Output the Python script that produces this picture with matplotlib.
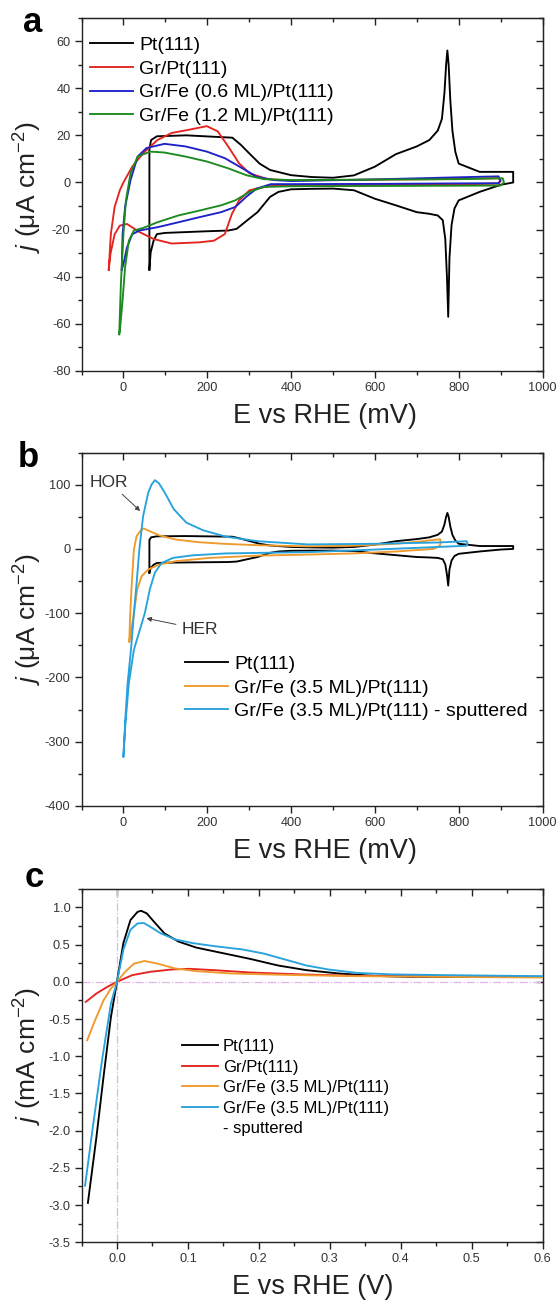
import matplotlib
matplotlib.use('Agg')
import matplotlib.pyplot as plt
from matplotlib.ticker import MultipleLocator, FormatStrFormatter
from matplotlib.lines import Line2D

plt.rcParams['font.family'] = ['Liberation Sans', 'DejaVu Sans']
plt.rcParams['mathtext.fontset'] = 'custom'
plt.rcParams['mathtext.rm'] = 'Liberation Sans'
plt.rcParams['mathtext.it'] = 'Liberation Sans:italic'
plt.rcParams['axes.unicode_minus'] = False

# ---------------- Panel a data (E in mV, j in uA cm-2) ----------------
E_pt = [62, 62, 66, 80, 150, 260, 280, 300, 325, 350, 400, 450, 500, 550, 600, 650, 700, 730, 750,
        760, 766, 770, 773, 776, 780, 785, 792, 800, 850, 930, 930, 900, 850, 800, 790, 783, 778,
        775, 772, 768, 762, 750, 730, 700, 650, 600, 550, 500, 450, 400, 370, 350, 320, 300, 270,
        250, 200, 100, 80, 72, 65, 62]
j_pt = [-37, 14, 18, 19.6, 20, 19, 16, 12.4, 8, 5.3, 3.1, 2.3, 2, 3, 6.7, 12, 15.3, 18, 22,
        27, 38, 50, 56, 50, 35, 22, 13, 8, 4.5, 4.5, 0, -1, -4, -7.6, -11, -18, -32,
        -57, -40, -24, -16, -14, -13.3, -12.6, -9.7, -6.9, -3.3, -2.6, -2.7, -2.9, -4, -6.1, -12.6, -15.4, -19.7,
        -20.4, -20.7, -21.4, -21.9, -24.7, -29.7, -37]

E_grpt = [-35, -30, -21, -8.5, 0, 21, 47, 81, 115, 157, 199, 225, 250, 276, 301, 344, 400, 600, 800, 895,
          900, 895, 800, 600, 400, 350, 320, 301, 276, 259, 242, 216, 182, 115, 72, 38, 8.5, -8.5, -21, -31, -35]
j_grpt = [-37, -21.9, -10.4, -3.3, 0, 6.7, 12.4, 18, 21, 22.4, 23.9, 21.7, 15.3, 8.1, 3.9, 1.4, 0.9, 1.2, 1.5, 1.8,
          0.5, -0.5, -0.8, -1, -1.2, -1.5, -2.5, -3.3, -7.6, -13.3, -21.9, -24.7, -25.4, -25.9, -24, -21, -17.6, -18.3, -22, -30.4, -37]

E_fe06 = [-4, -2, 4, 17, 34, 55, 98, 148, 199, 242, 284, 318, 360, 400, 600, 800, 895, 900, 895, 600,
          400, 352, 318, 293, 267, 233, 182, 131, 81, 38, 21, 8.5, 0, -4]
j_fe06 = [-37, -22, -10.4, 1, 11, 14.6, 16.4, 15.3, 13.1, 10.3, 6, 2.4, 1, 0.6, 1.3, 2.2, 2.6, 1, -0.3, -0.6,
          -0.7, -0.7, -2.6, -6.1, -10.4, -12.6, -14.7, -16.9, -19, -20.4, -22, -27.6, -34.7, -37]

E_fe12 = [-10, -6, 0, 6, 17, 34, 64, 98, 148, 199, 250, 293, 335, 400, 600, 800, 905, 908, 900, 600,
          400, 335, 301, 267, 233, 182, 131, 81, 47, 25, 13, 4, -2, -8.5, -10]
j_fe12 = [-64.4, -43, -22, -7.6, 3.9, 11, 13.1, 12.7, 11, 8.9, 6, 3.1, 1.4, 1, 1.2, 1.4, 1.8, 0, -1.3, -1.5,
          -1.6, -1.9, -4, -7.6, -9.7, -11.9, -14, -16.9, -19.3, -20.4, -24.7, -36, -50, -63, -64.4]

labels_a = ['Pt(111)', 'Gr/Pt(111)', 'Gr/Fe (0.6 ML)/Pt(111)', 'Gr/Fe (1.2 ML)/Pt(111)']

# ---------------- Panel b data ----------------
E_fe35 = [14, 16, 20, 25, 31.5, 43, 49, 63, 87, 126, 181, 244, 323, 441, 550, 650, 700, 740, 756, 757,
          755, 740, 650, 550, 441, 323, 205, 126, 87, 59, 43, 33, 24, 14]
j_fe35 = [-144, -105, -53, -1, 20, 30, 31.7, 27.5, 20.8, 14.5, 10.4, 7.8, 5.7, 4, 5, 8, 11, 14, 15, 10,
          5, 0, -4, -7, -8.8, -10.4, -14, -19, -24, -32, -43, -63, -105, -144]

E_sput = [0, 5, 10, 18, 25, 31.5, 38, 47, 59, 67, 75, 85, 100, 120, 150, 190, 245, 320, 441, 600, 750, 819,
          821, 819, 750, 600, 441, 244, 165, 118, 91, 75, 63, 51, 25, 13, 5, 0]
j_sput = [-323, -260, -209, -157, -100, -53, -1, 51, 87, 100, 107, 102, 86, 62, 41, 29, 19, 12, 7, 8, 10, 12,
          8, 5, 3, -1, -5, -7, -10, -14, -22, -37, -63, -100, -157, -209, -270, -323]

labels_b = ['Pt(111)', 'Gr/Fe (3.5 ML)/Pt(111)', 'Gr/Fe (3.5 ML)/Pt(111) - sputtered']

# ---------------- Panel c data (E in V, j in mA cm-2) ----------------
Ec_pt = [-0.041, -0.029, -0.019, -0.0085, 0, 0.009, 0.019, 0.029, 0.034, 0.042, 0.052, 0.067, 0.087, 0.112,
         0.147, 0.187, 0.227, 0.267, 0.313, 0.363, 0.413, 0.488, 0.6]
jc_pt = [-2.97, -2.09, -1.28, -0.47, 0, 0.52, 0.83, 0.94, 0.955, 0.92, 0.81, 0.65, 0.54, 0.46,
         0.39, 0.31, 0.22, 0.157, 0.112, 0.08, 0.067, 0.067, 0.067]

Ec_grpt = [-0.044, -0.029, -0.0135, 0, 0.0215, 0.047, 0.077, 0.102, 0.137, 0.187, 0.262, 0.338, 0.6]
jc_grpt = [-0.27, -0.157, -0.067, 0, 0.09, 0.135, 0.166, 0.175, 0.157, 0.126, 0.099, 0.081, 0.067]

Ec_fe35 = [-0.042, -0.031, -0.019, -0.0085, 0, 0.0115, 0.024, 0.039, 0.057, 0.082, 0.112, 0.162, 0.237, 0.338, 0.6]
jc_fe35 = [-0.785, -0.52, -0.25, -0.09, 0, 0.135, 0.245, 0.28, 0.245, 0.18, 0.143, 0.112, 0.094, 0.076, 0.058]

Ec_sput = [-0.045, -0.034, -0.021, -0.0085, 0, 0.009, 0.019, 0.029, 0.038, 0.047, 0.062, 0.082, 0.107, 0.137,
           0.177, 0.207, 0.237, 0.267, 0.298, 0.338, 0.388, 0.463, 0.6]
jc_sput = [-2.74, -1.95, -1.05, -0.29, 0, 0.43, 0.70, 0.785, 0.79, 0.74, 0.65, 0.57, 0.52, 0.48,
           0.435, 0.38, 0.30, 0.22, 0.166, 0.12, 0.10, 0.09, 0.076]

labels_c = ['Pt(111)', 'Gr/Pt(111)', 'Gr/Fe (3.5 ML)/Pt(111)', 'Gr/Fe (3.5 ML)/Pt(111)', '- sputtered']

# ---------------- styling ----------------
C_BLACK = '#000000'
C_RED = '#e3241f'
C_BLUE = '#1c22c8'
C_GREEN = '#1b8a1f'
C_ORANGE = '#ef9a2c'
C_LBLUE = '#27a2dc'
LW = 1.35
SPINE = '#222222'


def style(ax, xlim, ylim, xmaj, xmin, ymaj, ymin, fmt=None):
    ax.set_xlim(*xlim)
    ax.set_ylim(*ylim)
    for sp in ax.spines.values():
        sp.set_linewidth(1.0)
        sp.set_color(SPINE)
    ax.xaxis.set_major_locator(MultipleLocator(xmaj))
    ax.xaxis.set_minor_locator(MultipleLocator(xmin))
    ax.yaxis.set_major_locator(MultipleLocator(ymaj))
    ax.yaxis.set_minor_locator(MultipleLocator(ymin))
    if fmt:
        ax.xaxis.set_major_formatter(FormatStrFormatter(fmt))
        ax.yaxis.set_major_formatter(FormatStrFormatter(fmt))
    ax.tick_params(which='both', direction='out', width=1.0, color=SPINE,
                   labelsize=9.2, labelcolor='#333333', top=False, right=False)
    ax.tick_params(which='major', length=5, pad=3)
    ax.tick_params(which='minor', length=3)
    top = ax.secondary_xaxis('top')
    top.xaxis.set_major_locator(MultipleLocator(xmaj))
    top.xaxis.set_minor_locator(MultipleLocator(xmin))
    top.tick_params(which='both', direction='in', labeltop=False, width=1.0, color=SPINE)
    top.tick_params(which='major', length=5)
    top.tick_params(which='minor', length=3)
    top.spines['top'].set_color(SPINE)
    right = ax.secondary_yaxis('right')
    right.yaxis.set_major_locator(MultipleLocator(ymaj))
    right.yaxis.set_minor_locator(MultipleLocator(ymin))
    right.tick_params(which='both', direction='in', labelright=False, width=1.0, color=SPINE)
    right.tick_params(which='major', length=5)
    right.tick_params(which='minor', length=3)
    right.spines['right'].set_color(SPINE)


def labels(ax, xl, yl, xpos, ypos):
    ax.set_xlabel(xl, fontsize=19.5, color='#222222')
    ax.xaxis.set_label_coords(xpos, -0.127)
    ax.xaxis.label.set_va('center')
    ax.set_ylabel(yl, fontsize=19, color='#222222')
    ax.yaxis.set_label_coords(-0.117, ypos)
    ax.yaxis.label.set_va('center')


fig = plt.figure(figsize=(5.59, 13.01), dpi=100)
L, W, H = 0.1458, 0.8247, 0.2717
axA = fig.add_axes([L, 0.71484, W, H])
axB = fig.add_axes([L, 0.38048, W, H])
axC = fig.add_axes([L, 0.04512, W, H])

# Panel a
axA.plot(E_pt, j_pt, color=C_BLACK, lw=LW, label=labels_a[0])
axA.plot(E_grpt, j_grpt, color=C_RED, lw=LW, label=labels_a[1])
axA.plot(E_fe06, j_fe06, color=C_BLUE, lw=LW, label=labels_a[2])
axA.plot(E_fe12, j_fe12, color=C_GREEN, lw=LW, label=labels_a[3])
style(axA, (-100, 1000), (-80, 70), 200, 100, 20, 10)
labels(axA, 'E vs RHE (mV)', r'$j$ (μA cm$^{-2}$)', 0.529, 0.519)
axA.legend(loc='upper left', bbox_to_anchor=(0.0184, 0.946), frameon=False, fontsize=14,
           handlelength=2.2, handletextpad=0.33, labelspacing=0.31, borderpad=0, borderaxespad=0)

# Panel b
axB.plot(E_pt, j_pt, color=C_BLACK, lw=LW, label=labels_b[0])
axB.plot(E_fe35, j_fe35, color=C_ORANGE, lw=LW, label=labels_b[1])
axB.plot(E_sput, j_sput, color=C_LBLUE, lw=LW, label=labels_b[2])
style(axB, (-100, 1000), (-400, 150), 200, 100, 100, 50)
labels(axB, 'E vs RHE (mV)', r'$j$ (μA cm$^{-2}$)', 0.529, 0.528)
axB.legend(loc='upper left', bbox_to_anchor=(0.224, 0.426), frameon=False, fontsize=14,
           handlelength=2.2, handletextpad=0.33, labelspacing=0.31, borderpad=0, borderaxespad=0)
arrow = dict(arrowstyle='-|>', color='#444444', lw=0.7, mutation_scale=7, shrinkA=2, shrinkB=0)
axB.annotate('HOR', xy=(40, 59), xytext=(-34, 104), ha='center', va='center', fontsize=12.5,
             color='#333333', arrowprops=arrow)
axB.annotate('HER', xy=(55, -108), xytext=(182, -125), ha='center', va='center', fontsize=12.5,
             color='#333333', arrowprops=arrow)

# Panel c
axC.axhline(0, color='#e2b2ea', ls='-.', lw=0.9, zorder=1)
axC.axvline(0, color='#e2b2ea', ls='-.', lw=0.9, zorder=1)
axC.plot(Ec_pt, jc_pt, color=C_BLACK, lw=LW, zorder=3)
axC.plot(Ec_grpt, jc_grpt, color=C_RED, lw=LW, zorder=3)
axC.plot(Ec_fe35, jc_fe35, color=C_ORANGE, lw=LW, zorder=3)
axC.plot(Ec_sput, jc_sput, color=C_LBLUE, lw=LW, zorder=3)
style(axC, (-0.05, 0.6), (-3.5, 1.25), 0.1, 0.05, 0.5, 0.25, fmt='%.1f')
labels(axC, 'E vs RHE (V)', r'$j$ (mA cm$^{-2}$)', 0.502, 0.528)
hc = [Line2D([], [], color=c, lw=LW) for c in (C_BLACK, C_RED, C_ORANGE, C_LBLUE)]
hc.append(Line2D([], [], color='none'))
axC.legend(hc, labels_c, loc='upper left', bbox_to_anchor=(0.217, 0.575), frameon=False, fontsize=12,
           handlelength=2.2, handletextpad=0.28, labelspacing=0.33, borderpad=0, borderaxespad=0)

# Panel letters
fig.text(0.0411, 0.9754, 'a', fontsize=25, fontweight='bold', ha='left', va='baseline')
fig.text(0.0322, 0.6413, 'b', fontsize=25, fontweight='bold', ha='left', va='baseline')
fig.text(0.0447, 0.3185, 'c', fontsize=25, fontweight='bold', ha='left', va='baseline')

fig.savefig('out.png', dpi=100)
